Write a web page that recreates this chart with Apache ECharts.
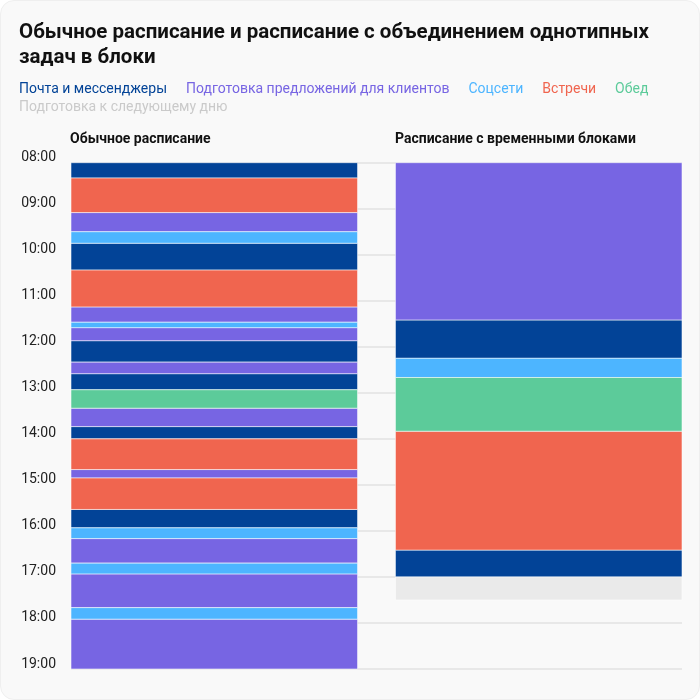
<!DOCTYPE html>
<html>
<head>
<meta charset="utf-8">
<script src="https://cdn.jsdelivr.net/npm/echarts@6/dist/echarts.min.js"></script>
<style>
  html, body { margin: 0; padding: 0; background: #ffffff; }
  #chart { position: absolute; left: 0; top: 0; width: 698px; height: 698px; background: #f9f9f9; border: 1px solid #efefef; border-radius: 14px; overflow: hidden; }
</style>
</head>
<body>
<div id="chart"></div>
<script>
// ---- data ----
const columns = ['Обычное расписание', 'Расписание с временными блоками'];
const categories = ['Почта и мессенджеры', 'Подготовка предложений для клиентов', 'Соцсети', 'Встречи', 'Обед', 'Подготовка к следующему дню'];
const colors = ['#024397', '#7765E3', '#4DB5FF', '#F0654F', '#5CCB9A', '#EAEAEA'];
const legendColors = ['#024397', '#7765E3', '#4DB5FF', '#F0654F', '#5CCB9A', '#CACACA'];
const hourLabels = ['08:00','09:00','10:00','11:00','12:00','13:00','14:00','15:00','16:00','17:00','18:00','19:00'];

// Обычное расписание: [category index, start, end]
const regularSchedule = [
  [0, '08:00', '08:20'],
  [3, '08:20', '09:05'],
  [1, '09:05', '09:30'],
  [2, '09:30', '09:45'],
  [0, '09:45', '10:20'],
  [3, '10:20', '11:08'],
  [1, '11:08', '11:28'],
  [2, '11:28', '11:35'],
  [1, '11:35', '11:52'],
  [0, '11:52', '12:20'],
  [1, '12:20', '12:35'],
  [0, '12:35', '12:56'],
  [4, '12:56', '13:20'],
  [1, '13:20', '13:44'],
  [0, '13:44', '14:00'],
  [3, '14:00', '14:40'],
  [1, '14:40', '14:51'],
  [3, '14:51', '15:32'],
  [0, '15:32', '15:56'],
  [2, '15:56', '16:10'],
  [1, '16:10', '16:42'],
  [2, '16:42', '16:56'],
  [1, '16:56', '17:40'],
  [2, '17:40', '17:55'],
  [1, '17:55', '19:00']
];
// Расписание с временными блоками
const blockSchedule = [
  [1, '08:00', '11:25'],
  [0, '11:25', '12:15'],
  [2, '12:15', '12:40'],
  [4, '12:40', '13:50'],
  [3, '13:50', '16:25'],
  [0, '16:25', '17:00'],
  [5, '17:00', '17:30']
];

// ---- build ----
function toHours(s) { const p = s.split(':'); return +p[0] + (+p[1]) / 60; }
const seriesData = categories.map(() => []);
[regularSchedule, blockSchedule].forEach((sched, col) => {
  sched.forEach(([cat, a, b]) => seriesData[cat].push([col, toHours(a), toHours(b)]));
});

const FONT = 'Roboto, Inter, sans-serif';
const barRatio = 0.938;

function renderItem(params, api) {
  const col = api.value(0);
  const top = api.coord([col, api.value(1)]);
  const bot = api.coord([col, api.value(2)]);
  const band = api.size([1, 0])[0];
  const w = band * barRatio;
  const x = col === 0 ? top[0] - band / 2 : top[0] + band / 2 - w;
  return {
    type: 'rect',
    shape: { x: x, y: top[1], width: w, height: bot[1] - top[1] },
    style: { fill: api.visual('color'), stroke: 'rgba(255,255,255,0.55)', lineWidth: 1 }
  };
}

const chart = echarts.init(document.getElementById('chart'), null, { renderer: 'canvas' });
chart.setOption({
  backgroundColor: 'transparent',
  animation: false,
  textStyle: { fontFamily: FONT },
  title: [
    { text: 'Обычное расписание и расписание с объединением однотипных\nзадач в блоки', left: 13, top: 14,
      textStyle: { fontFamily: FONT, fontSize: 20.5, fontWeight: 'bold', color: '#111', lineHeight: 25 } },
    { text: columns[0], left: 64, top: 126, textStyle: { fontFamily: FONT, fontSize: 14, fontWeight: 'bold', color: '#111' } },
    { text: columns[1], left: 389, top: 126, textStyle: { fontFamily: FONT, fontSize: 14, fontWeight: 'bold', color: '#111' } }
  ],
  legend: [
    { left: 8, top: 76, itemWidth: 0, itemHeight: 14, itemGap: 14, icon: 'none',
      selectedMode: false,
      textStyle: { fontFamily: FONT, fontSize: 14 },
      data: categories.slice(0, 5).map((n, i) => ({ name: n, textStyle: { color: legendColors[i] } })) },
    { left: 8, top: 94, itemWidth: 0, itemHeight: 14, icon: 'none', selectedMode: false,
      textStyle: { fontFamily: FONT, fontSize: 14 },
      data: [{ name: categories[5], textStyle: { color: legendColors[5] } }] }
  ],
  grid: { left: 70, right: 17, top: 161.7, bottom: 30, containLabel: false },
  xAxis: { type: 'category', data: columns, show: false },
  yAxis: {
    type: 'value', min: 8, max: 19, interval: 1, inverse: true,
    axisLine: { show: false }, axisTick: { show: false },
    splitLine: { show: true, lineStyle: { color: '#e8e8e8', width: 2 } },
    axisLabel: {
      margin: 15, fontSize: 14, color: '#222', fontFamily: FONT,
      verticalAlign: 'bottom', lineHeight: 10,
      formatter: v => hourLabels[Math.round(v - 8)]
    }
  },
  series: categories.map((n, i) => ({
    name: n, type: 'custom', renderItem: renderItem,
    itemStyle: { color: colors[i] },
    encode: { x: 0, y: [1, 2] },
    data: seriesData[i]
  }))
});
</script>
</body>
</html>
